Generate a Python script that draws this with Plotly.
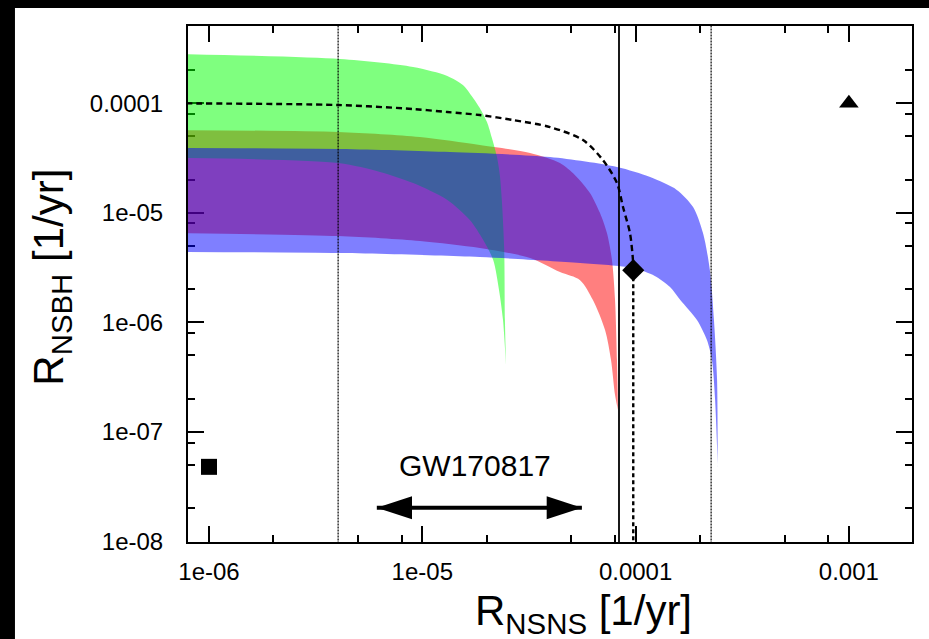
import math
import plotly.graph_objects as go

# ---------------- data ----------------
# green band
green_upper_x = [7e-7, 4.11e-6, 9.05e-6, 1.31e-5, 1.55e-5, 1.73e-5, 1.86e-5, 2.01e-5, 2.12e-5, 2.24e-5, 2.31e-5, 2.36e-5, 2.42e-5, 2.44e-5, 2.47e-5]
green_upper_y = [2.82e-4, 2.54e-4, 2.15e-4, 1.78e-4, 1.47e-4, 1.12e-4, 9.06e-5, 6.75e-5, 4.82e-5, 3.23e-5, 2.21e-5, 1.31e-5, 4.77e-6, 1.05e-6, 4.07e-7]
green_lower_x = [7e-7, 4.03e-6, 6.33e-6, 9.05e-6, 1.31e-5, 1.67e-5, 1.93e-5, 2.15e-5, 2.29e-5, 2.39e-5, 2.47e-5]
green_lower_y = [3.17e-5, 2.85e-5, 2.36e-5, 1.87e-5, 1.31e-5, 8.59e-6, 5.64e-6, 3.71e-6, 1.97e-6, 1.05e-6, 4.07e-7]

# red band
red_upper_x = [7e-7, 4.03e-6, 9.75e-6, 1.86e-5, 3.20e-5, 4.42e-5, 5.20e-5, 6.11e-5, 6.81e-5, 7.34e-5, 7.75e-5, 8.01e-5, 8.18e-5, 8.27e-5]
red_upper_y = [5.70e-5, 5.47e-5, 4.92e-5, 4.16e-5, 3.52e-5, 2.85e-5, 2.21e-5, 1.52e-5, 9.96e-6, 6.54e-6, 3.71e-6, 1.60e-6, 4.53e-7, 1.58e-7]
red_lower_x = [7e-7, 4.03e-6, 9.75e-6, 1.86e-5, 3.20e-5, 4.42e-5, 5.49e-5, 6.31e-5, 7.19e-5, 7.67e-5, 8.01e-5, 8.27e-5]
red_lower_y = [6.54e-6, 6.14e-6, 5.53e-6, 4.77e-6, 3.87e-6, 2.88e-6, 2.43e-6, 1.60e-6, 8.51e-7, 4.53e-7, 2.17e-7, 1.58e-7]

# blue band
blue_upper_x = [7e-7, 4.11e-6, 1.35e-5, 3.97e-5, 8.18e-5, 1.17e-4, 1.56e-4, 1.86e-4, 2.07e-4, 2.23e-4, 2.33e-4, 2.41e-4, 2.43e-4]
blue_upper_y = [3.91e-5, 3.83e-5, 3.59e-5, 3.23e-5, 2.62e-5, 2.12e-5, 1.62e-5, 1.13e-5, 6.54e-6, 3.00e-6, 1.05e-6, 2.97e-7, 4.77e-8]
blue_lower_x = [7e-7, 4.11e-6, 1.86e-5, 5.49e-5, 9.72e-5, 1.23e-4, 1.45e-4, 1.62e-4, 1.94e-4, 2.16e-4, 2.28e-4, 2.36e-4, 2.43e-4]
blue_lower_y = [4.39e-6, 4.29e-6, 3.95e-6, 3.48e-6, 3.13e-6, 2.65e-6, 2.10e-6, 1.60e-6, 1.05e-6, 6.89e-7, 4.53e-7, 1.95e-7, 4.77e-8]

# dashed curve ending on the diamond, then dropping vertically
curve_x = [7e-7, 4.03e-6, 9.05e-6, 1.31e-5, 1.86e-5, 2.66e-5, 3.97e-5, 5.67e-5, 7.03e-5, 8.18e-5, 8.73e-5, 9.41e-5, 9.72e-5, 9.75e-5]
curve_y = [1.00e-4, 9.65e-5, 8.87e-5, 8.33e-5, 7.82e-5, 7.04e-5, 6.07e-5, 4.62e-5, 3.03e-5, 1.87e-5, 1.13e-5, 6.54e-6, 3.71e-6, 3.00e-6]
drop_x = [9.75e-5, 9.75e-5]
drop_y = [3.00e-6, 1e-8]

# vertical reference lines
vline_dotted = [4.03e-6, 2.26e-4]
vline_solid = [8.36e-5]

# markers
square_pt = (1e-6, 4.8e-8)
diamond_pt = (9.75e-5, 3.0e-6)
triangle_pt = (1e-3, 1e-4)

# GW170817 arrow
arrow_x = [6.12e-6, 5.6e-5]
arrow_y = [2.03e-8, 2.03e-8]
gw_label = "GW170817"
gw_label_pos = (1.77e-5, 4.94e-8)

# axes
x_range_log = [-6.0985, -2.7041]
y_range_log = [-8.005, -3.294]
x_tickvals = [1e-6, 1e-5, 1e-4, 1e-3]
x_ticktext = ["1e-06", "1e-05", "0.0001", "0.001"]
y_tickvals = [1e-8, 1e-7, 1e-6, 1e-5, 1e-4]
y_ticktext = ["1e-08", "1e-07", "1e-06", "1e-05", "0.0001"]
minor_mult = [2, 5, 8]
x_minor = [m * 10.0 ** e for e in range(-6, -3) for m in minor_mult]
y_minor = [m * 10.0 ** e for e in range(-8, -3) for m in minor_mult]
x_title = "R<sub>NSNS</sub> [1/yr]"
y_title = "R<sub>NSBH</sub> [1/yr]"

FONT = "Liberation Sans, Arial, sans-serif"

fig = go.Figure()


def band(ux, uy, lx, ly, color):
    fig.add_trace(go.Scatter(
        x=list(ux) + list(lx)[::-1], y=list(uy) + list(ly)[::-1],
        mode="lines", fill="toself", fillcolor=color,
        line=dict(width=0, color=color, shape="spline", smoothing=0.8),
        hoverinfo="skip", showlegend=False))


band(red_upper_x, red_upper_y, red_lower_x, red_lower_y, "rgba(255,0,0,0.5)")
band(green_upper_x, green_upper_y, green_lower_x, green_lower_y, "rgba(0,255,0,0.5)")
band(blue_upper_x, blue_upper_y, blue_lower_x, blue_lower_y, "rgba(0,0,255,0.5)")

yl = [10 ** (y_range_log[0] - 1), 10 ** (y_range_log[1] + 1)]
for v in vline_dotted:
    fig.add_trace(go.Scatter(x=[v, v], y=yl, mode="lines",
                             line=dict(color="black", width=1.2, dash="2px,1px"),
                             showlegend=False, hoverinfo="skip"))
for v in vline_solid:
    fig.add_trace(go.Scatter(x=[v, v], y=yl, mode="lines",
                             line=dict(color="black", width=1.8),
                             showlegend=False, hoverinfo="skip"))

fig.add_trace(go.Scatter(x=curve_x, y=curve_y, mode="lines",
                         line=dict(color="black", width=2.4, dash="6px,4px",
                                   shape="spline", smoothing=0.8),
                         showlegend=False, hoverinfo="skip"))
fig.add_trace(go.Scatter(x=drop_x, y=drop_y, mode="lines",
                         line=dict(color="black", width=2.4, dash="4px,3px"),
                         showlegend=False, hoverinfo="skip"))

fig.add_trace(go.Scatter(x=[square_pt[0]], y=[square_pt[1]], mode="markers",
                         marker=dict(symbol="square", size=16, color="black"),
                         showlegend=False))
fig.add_trace(go.Scatter(x=[diamond_pt[0]], y=[diamond_pt[1]], mode="markers",
                         marker=dict(symbol="diamond", size=17, color="black"),
                         showlegend=False))
fig.add_trace(go.Scatter(x=[triangle_pt[0]], y=[triangle_pt[1]], mode="markers",
                         marker=dict(symbol="triangle-up", size=17, color="black"),
                         showlegend=False))

# arrow
fig.add_trace(go.Scatter(x=arrow_x, y=arrow_y, mode="lines",
                         line=dict(color="black", width=4),
                         showlegend=False, hoverinfo="skip"))
fig.add_trace(go.Scatter(x=arrow_x, y=arrow_y, mode="markers",
                         marker=dict(symbol="arrow", angle=[-90, 90], size=37,
                                     color="black", line=dict(width=0)),
                         showlegend=False, hoverinfo="skip"))

fig.add_annotation(x=math.log10(gw_label_pos[0]), y=math.log10(gw_label_pos[1]),
                   xref="x", yref="y", text=gw_label, showarrow=False,
                   font=dict(family=FONT, size=30, color="black"))

# axis titles as annotations (the x title sits right of the plot centre)
fig.add_annotation(x=0.5456, y=-0.1376, xref="paper", yref="paper",
                   xanchor="center", yanchor="middle", text=x_title,
                   showarrow=False, font=dict(family=FONT, size=42, color="black"))
fig.add_annotation(x=-0.188, y=0.514, xref="paper", yref="paper",
                   xanchor="center", yanchor="middle", text=y_title, textangle=-90,
                   showarrow=False, font=dict(family=FONT, size=42, color="black"))

axis_common = dict(
    type="log", showgrid=False, zeroline=False, automargin=False,
    showline=True, linecolor="black", linewidth=2, mirror="ticks",
    ticks="inside", ticklen=16, tickwidth=2, tickcolor="black",
    tickfont=dict(family=FONT, size=24, color="black"),
    layer="below traces",
)

fig.update_xaxes(
    **axis_common, range=x_range_log, tickmode="array",
    tickvals=x_tickvals, ticktext=x_ticktext, ticklabelstandoff=7,
    minor=dict(tickmode="array", tickvals=x_minor, ticks="inside", ticklen=7,
               tickwidth=2, tickcolor="black", showgrid=False),
)
fig.update_yaxes(
    **axis_common, range=y_range_log, tickmode="array",
    tickvals=y_tickvals, ticktext=y_ticktext, ticklabelstandoff=18,
    minor=dict(tickmode="array", tickvals=y_minor, ticks="inside", ticklen=7,
               tickwidth=2, tickcolor="black", showgrid=False),
)

fig.update_layout(
    width=929, height=639,
    margin=dict(l=188, r=17, t=26, b=97),
    paper_bgcolor="white", plot_bgcolor="white",
    showlegend=False,
    shapes=[
        dict(type="rect", xref="paper", yref="paper", x0=-0.30, x1=-0.2390,
             y0=-0.5, y1=1.5, fillcolor="black", line=dict(width=0), layer="above"),
        dict(type="rect", xref="paper", yref="paper", x0=-0.30, x1=1.2,
             y0=1.0349, y1=1.5, fillcolor="black", line=dict(width=0), layer="above"),
    ],
)

fig.write_html(
    "out.html",
    config={"displayModeBar": False},
    post_script=("document.documentElement.style.margin='0';"
                 "document.body.style.margin='0';"
                 "document.body.style.overflow='hidden';"
                 "document.documentElement.style.overflow='hidden';"),
)
